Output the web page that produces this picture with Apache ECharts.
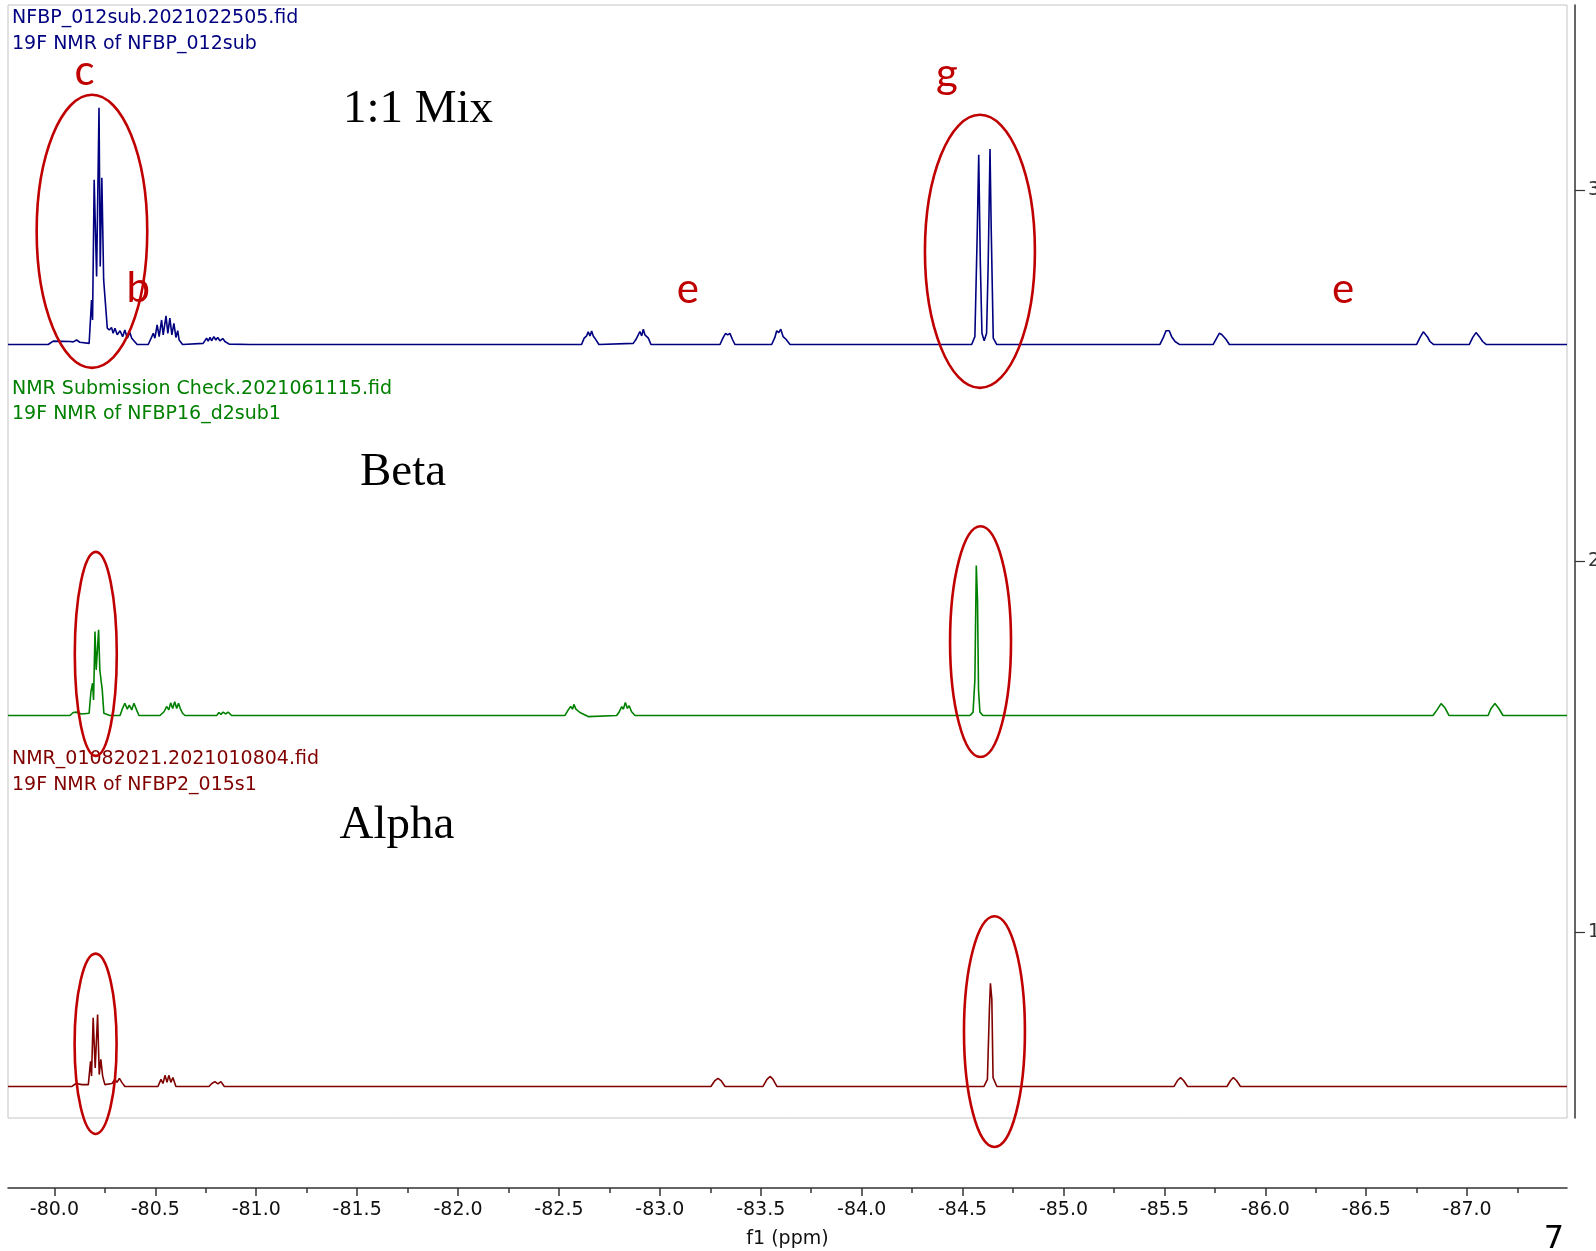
<!DOCTYPE html>
<html><head><meta charset="utf-8">
<script src="https://cdn.jsdelivr.net/npm/echarts@6/dist/echarts.min.js"></script>
<style>html,body{margin:0;padding:0;background:#fff}#c{width:1596px;height:1251px}</style>
</head><body><div id="c"></div>
<script>
// ---------- data ----------
const ppmRange = [-87.495, -79.77];
const majorTicks = [-80.0,-80.5,-81.0,-81.5,-82.0,-82.5,-83.0,-83.5,-84.0,-84.5,-85.0,-85.5,-86.0,-86.5,-87.0];
const minorTicks = [-80.25,-80.75,-81.25,-81.75,-82.25,-82.75,-83.25,-83.75,-84.25,-84.75,-85.25,-85.75,-86.25,-86.75,-87.25];
const stackTicks = [1, 2, 3];
const stackOffsets = [2.585, 1.585, 0.585];   // 1:1 Mix, Beta, Alpha
const spectrumNames = ['1:1 Mix', 'Beta', 'Alpha'];
const fileLines = [
  ['NFBP_012sub.2021022505.fid', '19F NMR of NFBP_012sub'],
  ['NMR Submission Check.2021061115.fid', '19F NMR of NFBP16_d2sub1'],
  ['NMR_01082021.2021010804.fid', '19F NMR of NFBP2_015s1']
];

// [ppm, intensity above baseline]
const mixPoints = [[-79.770,0],[-79.969,0],[-79.994,0.009],[-80.077,0.008],[-80.085,0.012],[-80.093,0.007],[-80.110,0.012],[-80.126,0.006],[-80.172,0.003],[-80.184,0.120],[-80.189,0.066],[-80.197,0.444],[-80.209,0.183],[-80.221,0.638],[-80.227,0.210],[-80.235,0.449],[-80.244,0.174],[-80.250,0.170],[-80.262,0.044],[-80.272,0.039],[-80.283,0.046],[-80.291,0.030],[-80.300,0.044],[-80.311,0.026],[-80.325,0.037],[-80.338,0.021],[-80.349,0.039],[-80.361,0.017],[-80.374,0.032],[-80.383,0.017],[-80.391,0.021],[-80.410,0],[-80.465,0],[-80.473,0.003],[-80.490,0.030],[-80.498,0.017],[-80.509,0.053],[-80.519,0.021],[-80.531,0.066],[-80.539,0.026],[-80.553,0.077],[-80.562,0.030],[-80.572,0.071],[-80.582,0.026],[-80.592,0.057],[-80.602,0.019],[-80.611,0.037],[-80.618,0.012],[-80.635,0],[-80.737,0.003],[-80.746,0.008],[-80.754,0.017],[-80.762,0.009],[-80.771,0.019],[-80.779,0.010],[-80.790,0.021],[-80.800,0.012],[-80.809,0.019],[-80.820,0.010],[-80.834,0.016],[-80.845,0.008],[-80.853,0.012],[-80.866,0.001],[-80.969,0],
[-82.612,0],[-82.625,0.017],[-82.637,0.023],[-82.645,0.034],[-82.654,0.023],[-82.662,0.036],[-82.670,0.023],[-82.678,0.017],[-82.687,0.012],[-82.698,0],[-82.868,0.003],[-82.882,0.014],[-82.893,0.026],[-82.901,0.035],[-82.910,0.023],[-82.918,0.041],[-82.926,0.026],[-82.935,0.030],[-82.943,0.017],[-82.956,0],
[-83.298,0],[-83.314,0.019],[-83.326,0.030],[-83.336,0.026],[-83.347,0.030],[-83.361,0.012],[-83.372,0],[-83.554,0],[-83.570,0.019],[-83.579,0.037],[-83.589,0.032],[-83.599,0.041],[-83.611,0.021],[-83.625,0.014],[-83.645,0],
[-84.545,0],[-84.561,0.021],[-84.573,0.309],[-84.580,0.511],[-84.588,0.219],[-84.596,0.030],[-84.607,0.010],[-84.619,0.030],[-84.627,0.219],[-84.636,0.527],[-84.642,0.309],[-84.652,0.017],[-84.669,0],
[-85.478,0],[-85.495,0.019],[-85.508,0.037],[-85.524,0.037],[-85.536,0.021],[-85.553,0.008],[-85.574,0],[-85.742,0],[-85.759,0.017],[-85.772,0.030],[-85.784,0.027],[-85.792,0.030],[-85.805,0.014],[-85.822,0],
[-86.750,0],[-86.767,0.019],[-86.783,0.034],[-86.803,0.021],[-86.816,0.008],[-86.833,0],[-87.011,0],[-87.028,0.019],[-87.044,0.032],[-87.061,0.021],[-87.077,0.008],[-87.094,0],[-87.495,0]];

const betaPoints = [[-79.770,0],[-79.928,0],[-80.077,0],[-80.093,0.008],[-80.110,0.009],[-80.135,0.004],[-80.172,0.006],[-80.181,0.064],[-80.189,0.087],[-80.194,0.042],[-80.201,0.226],[-80.207,0.123],[-80.219,0.231],[-80.225,0.123],[-80.232,0.091],[-80.237,0.069],[-80.245,0.006],[-80.275,0],[-80.325,0],[-80.336,0.017],[-80.349,0.033],[-80.361,0.017],[-80.371,0.028],[-80.383,0.015],[-80.394,0.033],[-80.407,0.015],[-80.419,0],[-80.523,0],[-80.543,0.010],[-80.556,0.024],[-80.567,0.015],[-80.576,0.034],[-80.586,0.019],[-80.596,0.037],[-80.606,0.019],[-80.615,0.033],[-80.625,0.017],[-80.635,0.006],[-80.647,0],[-80.804,0],[-80.815,0.008],[-80.825,0.003],[-80.836,0.009],[-80.848,0.004],[-80.861,0.009],[-80.878,0],
[-82.530,0],[-82.546,0.015],[-82.558,0.024],[-82.568,0.017],[-82.574,0.030],[-82.584,0.017],[-82.593,0.019],[-82.604,0.008],[-82.645,-0.003],[-82.786,0],[-82.799,0.010],[-82.811,0.024],[-82.819,0.017],[-82.829,0.035],[-82.839,0.019],[-82.848,0.026],[-82.860,0.010],[-82.877,0],
[-84.537,0],[-84.552,0.009],[-84.561,0.096],[-84.568,0.404],[-84.574,0.312],[-84.579,0.069],[-84.586,0.009],[-84.601,0],
[-86.831,0],[-86.851,0.015],[-86.871,0.032],[-86.891,0.020],[-86.910,0],[-87.104,0],[-87.118,0.018],[-87.138,0.032],[-87.158,0.018],[-87.178,0],[-87.495,0]];

const alphaPoints = [[-79.770,0],[-80.087,0],[-80.107,0.008],[-80.136,0.005],[-80.168,0.005],[-80.179,0.068],[-80.184,0.028],[-80.192,0.185],[-80.202,0.050],[-80.214,0.194],[-80.222,0.032],[-80.230,0.073],[-80.239,0.028],[-80.250,0.005],[-80.285,0.008],[-80.300,0.019],[-80.310,0.011],[-80.322,0.022],[-80.334,0.011],[-80.349,0],[-80.513,0],[-80.528,0.019],[-80.538,0.008],[-80.548,0.030],[-80.558,0.011],[-80.567,0.030],[-80.577,0.011],[-80.587,0.024],[-80.602,0],[-80.766,0],[-80.780,0.008],[-80.795,0.013],[-80.810,0.007],[-80.825,0.013],[-80.842,0],
[-83.253,0],[-83.273,0.016],[-83.288,0.022],[-83.303,0.016],[-83.323,0],[-83.511,0],[-83.531,0.019],[-83.546,0.027],[-83.560,0.020],[-83.580,0],
[-84.606,0],[-84.623,0.019],[-84.633,0.208],[-84.638,0.278],[-84.645,0.235],[-84.651,0.024],[-84.670,0],
[-85.548,0],[-85.565,0.016],[-85.580,0.024],[-85.595,0.016],[-85.615,0],[-85.810,0],[-85.828,0.016],[-85.842,0.024],[-85.857,0.016],[-85.877,0],[-87.495,0]];

// annotations in data space: [ppm centre, stack centre, ppm radius, stack radius]
const ellipseMarks = [
  [-80.186, 2.890, 0.274, 0.368],
  [-84.586, 2.836, 0.2725, 0.368],
  [-80.205, 1.751, 0.104, 0.275],
  [-84.589, 1.784, 0.151, 0.311],
  [-80.204, 0.700, 0.104, 0.243],
  [-84.658, 0.733, 0.151, 0.311]
];
const peakLetters = [['c',-80.149,3.322],['b',-80.416,2.737],['e',-83.139,2.732],['g',-84.423,3.314],['e',-86.385,2.732]];

// ---------- chart ----------
const colors = ['#000080', '#008000', '#800000'];
const sets = [mixPoints, betaPoints, alphaPoints];
const build = (pts, off) => pts.map(p => [p[0], p[1] + off]);
const sansFont = '"DejaVu Sans", Verdana, sans-serif';

const chart = echarts.init(document.getElementById('c'));
const option = {
  animation: false,
  backgroundColor: '#fff',
  grid: { left: 8, right: 29, top: 5, bottom: 133, show: true, borderColor: '#c4c4c4', borderWidth: 1, containLabel: false, outerBoundsMode: 'none' },
  xAxis: [{
    type: 'value', min: ppmRange[0], max: ppmRange[1], inverse: true, position: 'bottom', offset: 70,
    axisLine: { show: true, onZero: false, lineStyle: { color: '#333', width: 1.5 } },
    axisTick: { show: true, length: 8, customValues: majorTicks, lineStyle: { color: '#333', width: 1.5 } },
    axisLabel: { customValues: majorTicks, formatter: v => Number(v).toFixed(1), margin: 13, color: '#111', fontSize: 19, fontFamily: sansFont },
    splitLine: { show: false },
    name: 'f1 (ppm)', nameLocation: 'middle', nameGap: 42,
    nameTextStyle: { color: '#111', fontSize: 19, fontFamily: sansFont }
  }, {
    type: 'value', min: ppmRange[0], max: ppmRange[1], inverse: true, position: 'bottom', offset: 70,
    axisLine: { show: false, onZero: false },
    axisTick: { show: true, length: 5, customValues: minorTicks, lineStyle: { color: '#333', width: 1.5 } },
    axisLabel: { show: false }, splitLine: { show: false }
  }],
  yAxis: {
    type: 'value', min: 0.5, max: 3.5, position: 'right', offset: 8,
    axisLine: { show: true, onZero: false, lineStyle: { color: '#333', width: 1.5 } },
    axisTick: { show: true, length: 10, customValues: stackTicks, lineStyle: { color: '#333', width: 1.2 } },
    axisLabel: { customValues: stackTicks, margin: 13, color: '#333', fontSize: 19, fontFamily: sansFont },
    splitLine: { show: false }
  },
  series: sets.map((pts, i) => ({
    type: 'line', name: spectrumNames[i], xAxisIndex: 0, yAxisIndex: 0,
    data: build(pts, stackOffsets[i]), showSymbol: false, symbol: 'none', silent: true,
    lineStyle: { color: colors[i], width: 1.6 }, itemStyle: { color: colors[i] }
  }))
};
chart.setOption(option);

// ---------- annotations ----------
const px = (x, y) => chart.convertToPixel({ seriesIndex: 0 }, [x, y]);
const g = [];
const headerY = [[18.5, 44], [389, 414.5], [759.5, 785]];
fileLines.forEach((lines, i) => {
  lines.forEach((t, j) => g.push({ type: 'text', x: 12, y: headerY[i][j], z: 50,
    style: { text: t, fill: colors[i], font: '19px ' + sansFont, align: 'left', verticalAlign: 'middle' } }));
});
const titlePos = [[418, 110], [403, 473], [397, 826]];
spectrumNames.forEach((t, i) => g.push({ type: 'text', x: titlePos[i][0], y: titlePos[i][1], z: 50,
  style: { text: t, fill: '#000', font: '47px "Liberation Serif", "Times New Roman", serif', align: 'center', verticalAlign: 'middle' } }));
ellipseMarks.forEach(e => {
  const c = px(e[0], e[1]);
  const rx = Math.abs(px(e[0] + e[2], e[1])[0] - c[0]);
  const ry = Math.abs(px(e[0], e[1] + e[3])[1] - c[1]);
  g.push({ type: 'ellipse', z: 60, shape: { cx: c[0], cy: c[1], rx: rx, ry: ry },
    style: { fill: 'none', stroke: '#c00000', lineWidth: 2.6 } });
});
peakLetters.forEach(l => {
  const c = px(l[1], l[2]);
  g.push({ type: 'text', x: c[0], y: c[1], z: 60,
    style: { text: l[0], fill: '#c00000', font: '42px Lato, "Open Sans", sans-serif', align: 'center', verticalAlign: 'middle' } });
});
g.push({ type: 'text', x: 1554, y: 1240, z: 50,
  style: { text: '7', fill: '#000', font: '32px ' + sansFont, align: 'center', verticalAlign: 'middle' } });
chart.setOption({ graphic: g });
</script></body></html>
